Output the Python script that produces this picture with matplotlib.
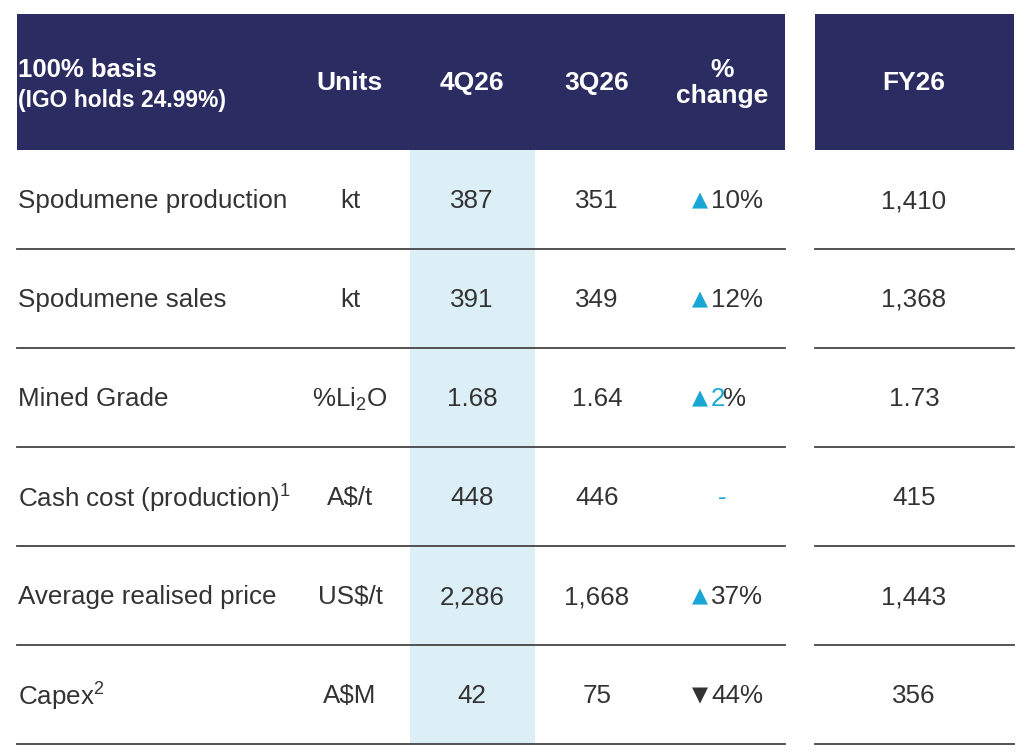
import matplotlib
matplotlib.use("Agg")
import matplotlib.pyplot as plt
from matplotlib.patches import Rectangle

plt.rcParams['font.family'] = ['Liberation Sans', 'DejaVu Sans']
plt.rcParams['mathtext.fontset'] = 'custom'
plt.rcParams['mathtext.rm'] = 'Liberation Sans'

headers = ["Units", "4Q26", "3Q26", "%\nchange", "FY26"]
rows = ["Spodumene production", "Spodumene sales", "Mined Grade",
        "Cash cost (production)$^{\\mathrm{1}}$", "Average realised price", "Capex$^{\\mathrm{2}}$"]
units = ["kt", "kt", "%Li$_{\\mathrm{2}}$O", "A$/t", "US$/t", "A$M"]
q4 = ["387", "391", "1.68", "448", "2,286", "42"]
q3 = ["351", "349", "1.64", "446", "1,668", "75"]
chg_dir = ["up", "up", "up", "none", "up", "down"]
chg_val = ["10%", "12%", "2%", "-", "37%", "44%"]
fy = ["1,410", "1,368", "1.73", "415", "1,443", "356"]

NAVY = "#2B2C61"
CYAN = "#1AA6D4"
TXT = "#333333"
LIGHT = "#DDEFF6"

fig = plt.figure(figsize=(10.34, 7.54), dpi=100)
ax = fig.add_axes([0, 0, 1, 1])
ax.set_xlim(0, 1034); ax.set_ylim(754, 0); ax.axis("off")

ax.add_patch(Rectangle((17, 14), 768, 136, color=NAVY, lw=0))
ax.add_patch(Rectangle((815, 14), 199, 136, color=NAVY, lw=0))
ax.add_patch(Rectangle((410, 150), 125, 595, color=LIGHT, lw=0))

ax.text(18, 70, "100% basis", color="white", fontsize=18.5, fontweight="bold", va="center")
ax.text(18, 101, "(IGO holds 24.99%)", color="white", fontsize=16.5, fontweight="bold", va="center")
hx = [350, 472, 597, 722, 914]
for x, h in zip(hx, headers):
    ax.text(x, 83, h, color="white", fontsize=19, fontweight="bold", ha="center", va="center",
            linespacing=1.15)

fs = 18.7
def wrap_mt(s):
    return s

for i in range(len(rows)):
    yc = 201 + 99 * i
    ax.text(18, yc, rows[i], color=TXT, fontsize=fs, va="center")
    ax.text(350, yc, units[i], color=TXT, fontsize=fs, ha="center", va="center")
    ax.text(472, yc, q4[i], color=TXT, fontsize=fs, ha="center", va="center")
    ax.text(597, yc, q3[i], color=TXT, fontsize=fs, ha="center", va="center")
    d = chg_dir[i]
    if d == "none":
        ax.text(722, yc, chg_val[i], color=CYAN, fontsize=fs, ha="center", va="center")
    else:
        sym = "▲" if d == "up" else "▼"
        col = CYAN if d == "up" else TXT
        ax.text(708, yc - 1, sym, color=col, fontsize=15, ha="right", va="center",
                family=["DejaVu Sans"])
        if i == 2:
            ax.text(711, yc, chg_val[i][0], color=CYAN, fontsize=fs, ha="left", va="center")
            ax.text(722, yc, "%", color=TXT, fontsize=fs, ha="left", va="center")
        else:
            ax.text(711, yc, chg_val[i], color=TXT, fontsize=fs, ha="left", va="center")
    ax.text(914, yc, fy[i], color=TXT, fontsize=fs, ha="center", va="center")
    yl = 249 + 99 * i
    ax.plot([17, 785], [yl, yl], color="#444444", lw=1.3)
    ax.plot([815, 1014], [yl, yl], color="#444444", lw=1.3)

fig.savefig("out.png", dpi=100)
